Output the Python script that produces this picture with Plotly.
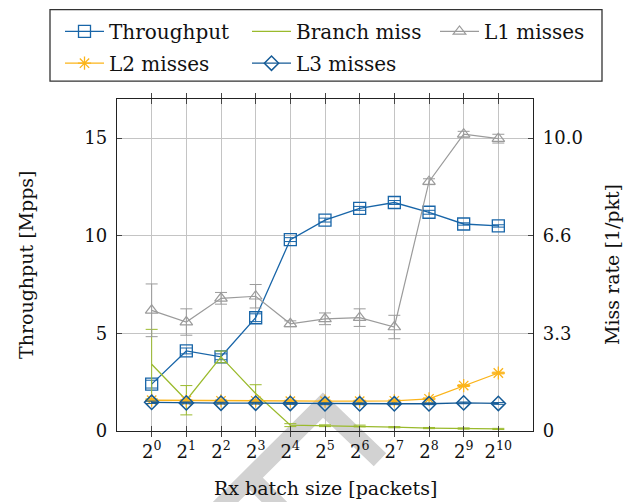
import plotly.graph_objects as go

# ---------------- data ----------------
batch_sizes = [1, 2, 4, 8, 16, 32, 64, 128, 256, 512, 1024]
x_tick_text = ["2<sup>0</sup>", "2<sup>1</sup>", "2<sup>2</sup>", "2<sup>3</sup>", "2<sup>4</sup>",
               "2<sup>5</sup>", "2<sup>6</sup>", "2<sup>7</sup>", "2<sup>8</sup>", "2<sup>9</sup>",
               "2<sup>10</sup>"]

throughput = [2.4, 4.1, 3.8, 5.8, 9.8, 10.8, 11.4, 11.7, 11.2, 10.6, 10.5]
throughput_err = [0.2, 0.15, 0.15, 0.2, 0.1, 0.1, 0.1, 0.1, 0.1, 0.06, 0.06]

branch_miss = [2.28, 1.05, 2.53, 1.28, 0.2, 0.18, 0.17, 0.13, 0.1, 0.085, 0.07]
branch_err = [1.19, 0.5, 0.2, 0.3, 0.05, 0.03, 0.03, 0.02, 0.02, 0.02, 0.02]

l1_misses = [4.12, 3.72, 4.53, 4.6, 3.66, 3.83, 3.87, 3.55, 8.51, 10.13, 9.98]
l1_err = [0.9, 0.45, 0.2, 0.4, 0.1, 0.2, 0.3, 0.4, 0.1, 0.1, 0.15]

l2_misses = [1.05, 1.04, 1.03, 1.03, 1.02, 1.02, 1.02, 1.03, 1.1, 1.55, 1.98]
l2_err = [0.04, 0.03, 0.03, 0.03, 0.03, 0.03, 0.03, 0.03, 0.03, 0.03, 0.03]

l3_misses = [0.98, 0.96, 0.95, 0.95, 0.94, 0.93, 0.93, 0.93, 0.93, 0.96, 0.94]
l3_err = [0.04, 0.03, 0.03, 0.03, 0.03, 0.03, 0.03, 0.03, 0.03, 0.03, 0.03]

left_ticks = [0, 5, 10, 15]
right_tickvals = [0, 10 / 3, 20 / 3, 10]
right_ticktext = ["0", "3.3", "6.6", "10.0"]

# ---------------- style ----------------
FONT = "DejaVu Serif"
FS_TICK = 18
FS_TITLE = 19
FS_LEG = 20
C_TP = "#1865a8"
C_BR = "#9aba2c"
C_L1 = "#9b9b9b"
C_L2 = "#fbb41a"
C_L3 = "#145a96"

W, H = 636, 502
L, R, T, B = 117, 533, 97, 431


def px(x):
    return (x - L) / (R - L)


def py(y):
    return (B - y) / (B - T)


fig = go.Figure()


def err(arr, color):
    return dict(type="data", array=arr, visible=True, color=color, thickness=1, width=6)


fig.add_trace(go.Scatter(
    x=batch_sizes, y=throughput, name="Throughput", mode="lines+markers",
    line=dict(color=C_TP, width=1.3),
    marker=dict(symbol="square-open", size=12, color=C_TP, line=dict(width=1.3, color=C_TP)),
    error_y=err(throughput_err, C_TP), legend="legend", yaxis="y"))

fig.add_trace(go.Scatter(
    x=batch_sizes, y=branch_miss, name="Branch miss", mode="lines",
    line=dict(color=C_BR, width=1.3),
    error_y=err(branch_err, C_BR), legend="legend2", yaxis="y2"))

fig.add_trace(go.Scatter(
    x=batch_sizes, y=l1_misses, name="L1 misses", mode="lines+markers",
    line=dict(color=C_L1, width=1.2),
    marker=dict(symbol="triangle-up-open", size=11, color=C_L1, line=dict(width=1.2, color=C_L1)),
    error_y=err(l1_err, C_L1), legend="legend3", yaxis="y2"))

fig.add_trace(go.Scatter(
    x=batch_sizes, y=l2_misses, name="L2 misses", mode="lines+markers",
    line=dict(color=C_L2, width=1.3),
    marker=dict(symbol="asterisk-open", size=11, color=C_L2, line=dict(width=1.3, color=C_L2)),
    error_y=err(l2_err, C_L2), legend="legend4", yaxis="y2"))

fig.add_trace(go.Scatter(
    x=batch_sizes, y=l3_misses, name="L3 misses", mode="lines+markers",
    line=dict(color=C_L3, width=1.3),
    marker=dict(symbol="diamond-open", size=11, color=C_L3, line=dict(width=1.5, color=C_L3)),
    error_y=err(l3_err, C_L3), legend="legend5", yaxis="y2"))

legend_common = dict(bgcolor="rgba(0,0,0,0)", borderwidth=0, font=dict(family=FONT, size=FS_LEG, color="#111"),
                     xanchor="left", yanchor="middle", orientation="v", itemwidth=39)
row1, row2 = py(29), py(61)
col1, col2, col3 = px(60), px(247), px(435)

layout_legends = dict(
    legend=dict(x=col1, y=row1, **legend_common),
    legend2=dict(x=col2, y=row1, **legend_common),
    legend3=dict(x=col3, y=row1, **legend_common),
    legend4=dict(x=col1, y=row2, **legend_common),
    legend5=dict(x=col2, y=row2, **legend_common),
)

axis_line = dict(showline=True, linecolor="#222", linewidth=1.3, ticks="inside", ticklen=5,
                 tickcolor="#444", tickwidth=1.2)

fig.update_layout(
    width=W, height=H,
    margin=dict(l=L, r=W - R, t=T, b=H - B),
    paper_bgcolor="white", plot_bgcolor="rgba(0,0,0,0)",
    font=dict(family=FONT, size=FS_TICK, color="#111"),
    showlegend=True,
    xaxis=dict(type="log", range=[-0.30103, 3.31133], tickvals=batch_sizes, ticktext=x_tick_text,
               showgrid=True, gridcolor="#c4c4c4", gridwidth=1, mirror="allticks", zeroline=False,
               tickfont=dict(family=FONT, size=FS_TICK), ticklabelstandoff=4, **axis_line),
    yaxis=dict(range=[0, 17], tickvals=left_ticks, showgrid=True, gridcolor="#c4c4c4", gridwidth=1,
               zeroline=False, tickfont=dict(family=FONT, size=FS_TICK), ticklabelstandoff=5, **axis_line),
    yaxis2=dict(range=[0, 17 / 1.5], tickvals=right_tickvals, ticktext=right_ticktext, overlaying="y",
                side="right", showgrid=False, zeroline=False, tickfont=dict(family=FONT, size=FS_TICK),
                ticklabelstandoff=5, **axis_line),
    **layout_legends,
)

# legend frame
fig.add_shape(type="rect", xref="paper", yref="paper", x0=px(50), x1=px(602), y0=py(79), y1=py(7),
              line=dict(color="#333", width=1.3), fillcolor="rgba(0,0,0,0)", layer="above")

# faint watermark stroke (rotated letter)
wm = "M {:.4f} {:.4f} L {:.4f} {:.4f} L {:.4f} {:.4f}".format(px(185), py(543), px(323), py(405), px(380), py(460))
fig.add_shape(type="path", xref="paper", yref="paper", path=wm, line=dict(color="#d2d2d2", width=18), layer="below")
wm2 = "M {:.4f} {:.4f} L {:.4f} {:.4f}".format(px(250), py(478), px(300), py(528))
fig.add_shape(type="path", xref="paper", yref="paper", path=wm2, line=dict(color="#d2d2d2", width=18), layer="below")

# axis titles
fig.add_annotation(text="Throughput [Mpps]", xref="paper", yref="paper", x=px(26), y=py(264),
                   textangle=-90, showarrow=False, font=dict(family=FONT, size=FS_TITLE), xanchor="center", yanchor="middle")
fig.add_annotation(text="Miss rate [1/pkt]", xref="paper", yref="paper", x=px(612), y=py(264),
                   textangle=-90, showarrow=False, font=dict(family=FONT, size=FS_TITLE), xanchor="center", yanchor="middle")
fig.add_annotation(text="Rx batch size [packets]", xref="paper", yref="paper", x=px(325), y=py(488),
                   showarrow=False, font=dict(family=FONT, size=FS_TITLE), xanchor="center", yanchor="middle")

fig.write_html("out.html")
